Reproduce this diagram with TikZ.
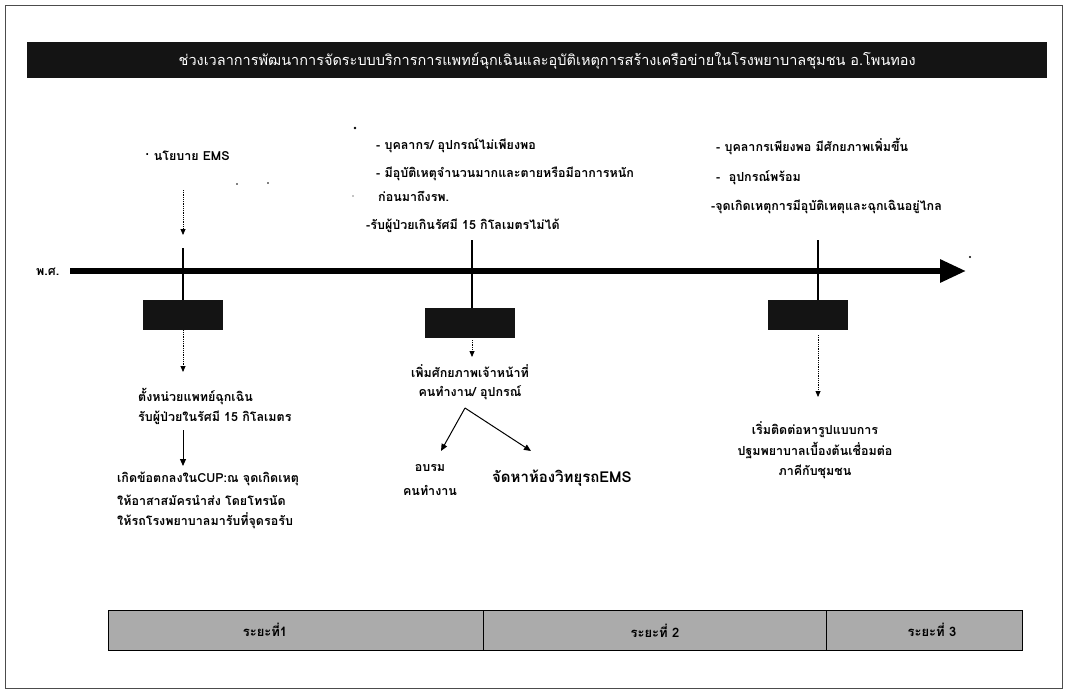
\documentclass[tikz,border=0pt]{standalone}
\usepackage{fontspec}
\newfontfamily\thaifont[Script=Thai]{Loma}
\usetikzlibrary{arrows.meta}
\begin{document}
\begin{tikzpicture}[x=1pt,y=-1pt,
  txt/.style={inner sep=0pt,font=\thaifont\bfseries\fontsize{12.5}{14}\selectfont},
  lt/.style={txt,anchor=west},
  ct/.style={txt,anchor=center},
  blk/.style={fill=black!92,draw=none},
  dotarrow/.style={densely dotted,line width=0.8pt,-{Triangle[length=6pt,width=5pt]}},
  solidarrow/.style={line width=1pt,-{Triangle[length=7pt,width=6pt]}},
  tick/.style={line width=1.6pt},
  band/.style={draw=black,line width=0.8pt,fill=black!33},
  speck/.style={fill=black,draw=none}]
\useasboundingbox (0,0) rectangle (1090,690);
\fill[white] (0,0) rectangle (1090,690);
% outer frame
\draw[line width=0.9pt,black!70] (5,5) rectangle (1062,688);

% heading bar
\node[blk,minimum width=1020pt,minimum height=36pt,anchor=north west] (head) at (27,42) {};
\node[txt,text=white,font=\thaifont\fontsize{14.5}{16}\selectfont] (title) at ([xshift=10pt,yshift=-1pt]head.center)
  {ช่วงเวลาการพัฒนาการจัดระบบบริการการแพทย์ฉุกเฉินและอุบัติเหตุการสร้างเครือข่ายในโรงพยาบาลชุมชน อ.โพนทอง};

% time axis
\node[txt,anchor=west] (be) at (36,272) {พ.ศ.};
\coordinate (axs) at (70,271);
\coordinate (axe) at (966,271);
\draw[line width=6pt,-{Triangle[length=26pt,width=22pt]}] (axs) -- (axe);

% ticks
\coordinate (t1a) at (183,248); \coordinate (t1b) at (183,300);
\coordinate (t2a) at (472,240); \coordinate (t2b) at (472,308);
\coordinate (t3a) at (818,240); \coordinate (t3b) at (818,300);
\draw[tick] (t1a) -- (t1b);
\draw[tick] (t2a) -- (t2b);
\draw[tick] (t3a) -- (t3b);

% black year boxes
\node[blk,minimum width=80pt,minimum height=30pt] (b1) at (183,315) {};
\node[blk,minimum width=90pt,minimum height=30pt] (b2) at (470,323) {};
\node[blk,minimum width=80pt,minimum height=30pt] (b3) at (808,315) {};

% ---- phase 1 ----
\node[lt] (p1top) at (145,156) {· นโยบาย EMS};
\coordinate (p1arr) at (183,235);
\draw[dotarrow] (183,190) -- (p1arr);
\node[lt] (p1a1) at (138,397) {ตั้งหน่วยแพทย์ฉุกเฉิน};
\node[lt] (p1a2) at (138,418) {รับผู้ป่วยในรัศมี 15 กิโลเมตร};
\draw[dotarrow] (b1.south) -- (183,372);
\draw[solidarrow] (183,430) -- (183,466);
\node[lt] (p1b1) at (117,479) {เกิดข้อตกลงในCUP:ณ จุดเกิดเหตุ};
\node[lt] (p1b2) at (117,500) {ให้อาสาสมัครนำส่ง โดยโทรนัด};
\node[lt] (p1b3) at (117,521) {ให้รถโรงพยาบาลมารับที่จุดรอรับ};

% ---- phase 2 ----
\node[lt] (p2t1) at (376,146) {- บุคลากร/ อุปกรณ์ไม่เพียงพอ};
\node[lt] (p2t2) at (376,174) {- มีอุบัติเหตุจำนวนมากและตายหรือมีอาการหนัก};
\node[lt] (p2t3) at (378,196) {ก่อนมาถึงรพ.};
\node[lt] (p2t4) at (366,226) {-รับผู้ป่วยเกินรัศมี 15 กิโลเมตรไม่ได้};
\draw[dotarrow] (472,340) -- (472,357);
\node[ct] (p2a1) at (470,371) {เพิ่มศักยภาพเจ้าหน้าที่};
\node[ct] (p2a2) at (470,393) {คนทำงาน/ อุปกรณ์};
\coordinate (fork) at (465,408);
\node[ct] (p2l1) at (430,468) {อบรม};
\node[ct] (p2l2) at (430,490) {คนทำงาน};
\node[lt,font=\thaifont\bfseries\fontsize{15}{17}\selectfont] (p2r) at (492,478) {จัดหาห้องวิทยุรถEMS};
\draw[solidarrow] (fork) -- (441,451);
\draw[solidarrow] (fork) -- (531,451);

% ---- phase 3 ----
\node[lt] (p3t1) at (716,147) {- บุคลากรเพียงพอ มีศักยภาพเพิ่มขึ้น};
\node[lt] (p3t2) at (716,178) {-\ \ อุปกรณ์พร้อม};
\node[lt] (p3t3) at (711,207) {-จุดเกิดเหตุการมีอุบัติเหตุและฉุกเฉินอยู่ไกล};
\draw[dotarrow] (818,335) -- (818,397);
\node[ct] (p3a1) at (815,430) {เริ่มติดต่อหารูปแบบการ};
\node[ct] (p3a2) at (815,451) {ปฐมพยาบาลเบื้องต้นเชื่อมต่อ};
\node[ct] (p3a3) at (815,472) {ภาคีกับชุมชน};

% ---- phase band ----
\node[band,minimum width=375pt,minimum height=40pt,anchor=north west] (ph1) at (108,610) {};
\node[band,minimum width=343pt,minimum height=40pt,anchor=north west] (ph2) at (483,610) {};
\node[band,minimum width=196pt,minimum height=40pt,anchor=north west] (ph3) at (826,610) {};
\node[txt,font=\thaifont\bfseries\fontsize{13}{15}\selectfont] (ph1t) at (265,630) {ระยะที่1};
\node[txt,font=\thaifont\bfseries\fontsize{13}{15}\selectfont] (ph2t) at (655,631) {ระยะที่ 2};
\node[txt,font=\thaifont\bfseries\fontsize{13}{15}\selectfont] (ph3t) at (932,630) {ระยะที่ 3};

% stray specks
\fill[speck] (355,128) circle (1.3pt);
\fill[speck] (237,184) circle (0.8pt);
\fill[speck] (268,183) circle (0.8pt);
\fill[speck] (353,196) circle (0.7pt);
\fill[speck] (970,257) circle (1.1pt);
\end{tikzpicture}
\end{document}
